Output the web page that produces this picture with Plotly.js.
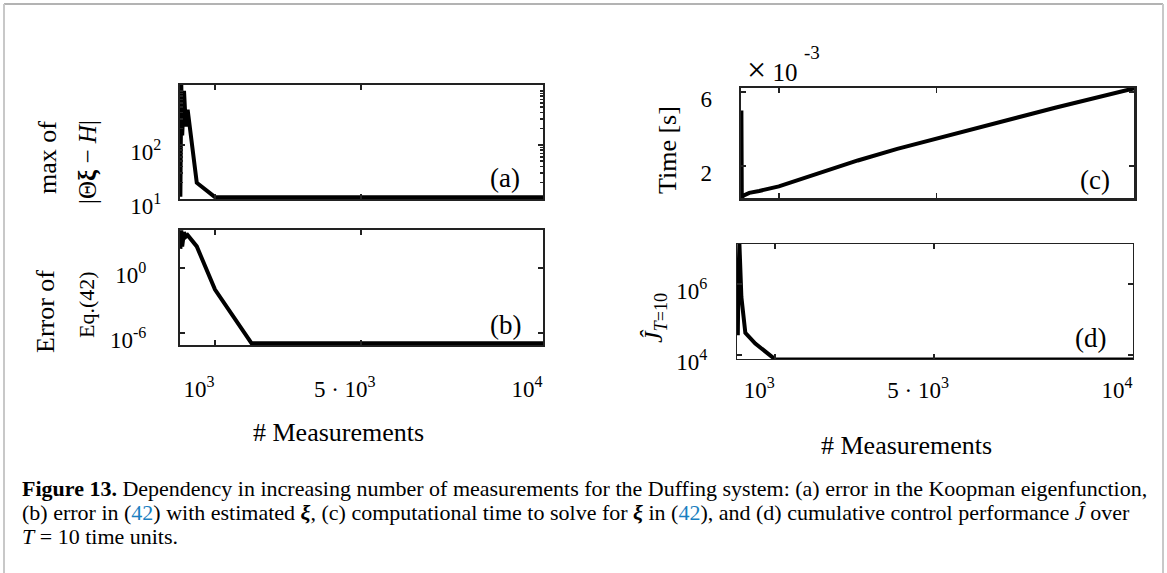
<!DOCTYPE html>
<html>
<head>
<meta charset="utf-8">
<script src="https://cdn.plot.ly/plotly-3.0.1.min.js"></script>
<style>html,body{margin:0;padding:0;background:#fff;}#chart{width:1167px;height:573px;}</style>
</head>
<body>
<div id="chart"></div>
<script>
// ---- data ----
const measurements = [50, 60, 75, 100, 150, 200, 250, 500, 1000, 2000, 3000, 4000, 5000, 6000, 7000, 8000, 9000, 10000];
const eigenError = [11, 600, 1300, 150, 1000, 220, 450, 20, 10.8, 10.8, 10.8, 10.8, 10.8, 10.8, 10.8, 10.8, 10.8, 10.8];
const eq42Error = [60, 1500, 3000, 100, 2000, 800, 1100, 100, 0.01, 1.1e-7, 1.1e-7, 1.1e-7, 1.1e-7, 1.1e-7, 1.1e-7, 1.1e-7, 1.1e-7, 1.1e-7];
const solveTime = [5.0e-3, 0.3e-3, 0.32e-3, 0.4e-3, 0.45e-3, 0.5e-3, 0.55e-3, 0.65e-3, 0.9e-3, 1.6e-3, 2.3e-3, 2.93e-3, 3.5e-3, 4.05e-3, 4.6e-3, 5.15e-3, 5.7e-3, 6.2e-3];
const controlCost = [4.3e5, 3.6e4, 1e6, 1.4e7, 4.3e5, 1.2e5, 4.2e4, 2.1e4, 7500, 7500, 7500, 7500, 7500, 7500, 7500, 7500, 7500, 7500];

const xTickVals = [1000, 5000, 10000];
const xTickText = ['10<sup>3</sup>', '5 · 10<sup>3</sup>', '10<sup>4</sup>'];
const aTickVals = [10, 100];
const aTickText = ['10<sup>1</sup>', '10<sup>2</sup>'];
const bTickVals = [1, 1e-6];
const bTickText = ['10<sup>0</sup>', '10<sup>-6</sup>'];
const cTickVals = [0.002, 0.006];
const cTickText = ['2', '6'];
const dTickVals = [1e4, 1e6];
const dTickText = ['10<sup>4</sup>', '10<sup>6</sup>'];

const W = 1167, H = 573;
const px = v => v / W;
const py = v => 1 - v / H;
const FONT = 'Liberation Serif, Times New Roman, serif';

function line(y, xa, ya) {
  return {x: measurements, y: y, xaxis: xa, yaxis: ya, mode: 'lines', type: 'scatter',
    line: {color: '#000', width: 4}, hoverinfo: 'skip', showlegend: false};
}
const traces = [
  line(eigenError, 'x', 'y'),
  line(eq42Error, 'x2', 'y2'),
  line(solveTime, 'x3', 'y3'),
  line(controlCost, 'x4', 'y4')
];

function xa(domain, anchor, labels, lw, standoff) {
  return {domain: domain, anchor: anchor, range: [40, 10000], tickmode: 'array',
    tickvals: xTickVals, ticktext: xTickText, showticklabels: labels,
    ticks: 'inside', ticklen: 5, tickwidth: 1.5, tickcolor: '#222',
    showline: true, mirror: 'ticks', linewidth: lw, linecolor: '#222',
    showgrid: false, zeroline: false, ticklabelstandoff: standoff || 20, ticklabelshift: -16,
    tickfont: {family: FONT, size: 23, color: '#000'}};
}
function ya(domain, anchor, type, range, vals, text, lw, standoff, extra) {
  return Object.assign({domain: domain, anchor: anchor, type: type, range: range,
    tickmode: 'array', tickvals: vals, ticktext: text,
    ticks: 'inside', ticklen: 5, tickwidth: 1.5, tickcolor: '#222',
    showline: true, mirror: 'ticks', linewidth: lw, linecolor: '#222',
    showgrid: false, zeroline: false, ticklabelstandoff: standoff, ticklabelshift: 7,
    tickfont: {family: FONT, size: 23, color: '#000'}}, extra || {});
}
function note(text, x, y, size, angle, extra) {
  return Object.assign({text: text, x: px(x), y: py(y), xref: 'paper', yref: 'paper',
    xanchor: 'center', yanchor: 'middle', showarrow: false, textangle: angle || 0,
    font: {family: FONT, size: size, color: '#000'}}, extra || {});
}
const BLUE = '#1a7fc1';

const layout = {
  width: W, height: H, autosize: false,
  margin: {l: 0, r: 0, t: 0, b: 0},
  paper_bgcolor: '#fff', plot_bgcolor: '#fff',
  showlegend: false,
  font: {family: FONT, color: '#000'},
  xaxis: xa([px(180), px(543)], 'y', false, 2),
  yaxis: ya([py(199), py(85)], 'x', 'log', [1, 3.11], aTickVals, aTickText, 2, 12,
    {minor: {ticks: 'inside', ticklen: 3, tickcolor: '#222', dtick: 'D1'}}),
  xaxis2: xa([px(180), px(543)], 'y2', true, 2, 22),
  yaxis2: ya([py(345), py(230)], 'x2', 'log', [-7.13, 3.52], bTickVals, bTickText, 2, 27),
  xaxis3: xa([px(741), px(1134)], 'y3', false, 2.5),
  yaxis3: ya([py(198), py(88)], 'x3', 'linear', [0.27e-3, 6.22e-3], cTickVals, cTickText, 2.5, 22),
  xaxis4: xa([px(737), px(1133)], 'y4', true, 1.2, 10),
  yaxis4: ya([py(359), py(244)], 'x4', 'log', [3.887, 7.13], dTickVals, dTickText, 1.2, 24),
  annotations: [
    note('(a)', 505, 178, 27),
    note('(b)', 505, 325, 27),
    note('(c)', 1095, 180, 27),
    note('(d)', 1090, 338, 27),
    note('<span style="font-size:34px">×</span> 10', 772, 70, 25),
    note('-3', 812, 52, 19),
    note('max of', 47, 158, 26, -90),
    note('|Θ<b>ξ</b> − <i>H</i>|', 88, 162, 25, -90),
    note('Error of', 45, 312, 26, -90),
    note('Eq.(42)', 86, 305, 22, -90),
    note('Time [s]', 668, 150, 26, -90),
    note('<i>Ĵ</i><sub><i>T</i>=10</sub>', 655, 318, 26, -90),
    note('# Measurements', 338, 432, 26),
    note('# Measurements', 907, 445, 26),
    note('<b>Figure 13.</b> Dependency in increasing number of measurements for the Duffing system: (a) error in the Koopman eigenfunction,',
      20, 488, 22, 0, {xanchor: 'left'}),
    note('(b) error in (<span style="color:' + BLUE + '">42</span>) with estimated <b><i>ξ</i></b>, (c) computational time to solve for <b><i>ξ</i></b> in (<span style="color:' + BLUE + '">42</span>), and (d) cumulative control performance <i>Ĵ</i> over',
      20, 512, 22, 0, {xanchor: 'left'}),
    note('<i>T</i> = 10 time units.', 20, 536, 22, 0, {xanchor: 'left'})
  ],
  shapes: [
    {type: 'line', xref: 'paper', yref: 'paper', x0: px(4), x1: px(1163), y0: py(4), y1: py(4), line: {color: '#9a9a9a', width: 1.5}},
    {type: 'line', xref: 'paper', yref: 'paper', x0: px(4), x1: px(4), y0: py(4), y1: 0, line: {color: '#c8c8c8', width: 2}},
    {type: 'line', xref: 'paper', yref: 'paper', x0: px(1163), x1: px(1163), y0: py(4), y1: 0, line: {color: '#c8c8c8', width: 2}}
  ]
};

Plotly.newPlot('chart', traces, layout, {staticPlot: true, displayModeBar: false});
</script>
</body>
</html>
